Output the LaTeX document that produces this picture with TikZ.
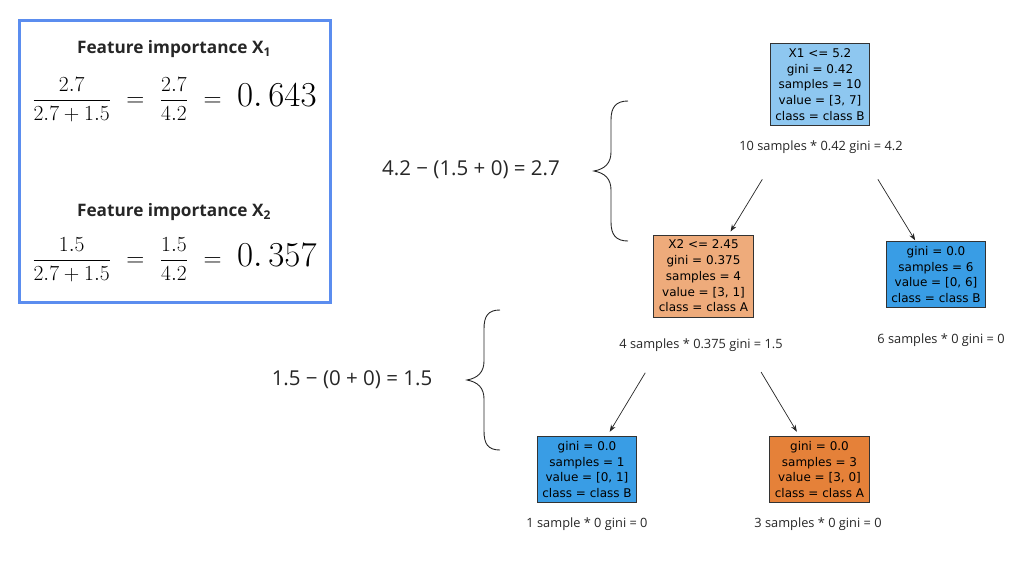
\RequirePackage{fix-cm}
\documentclass[tikz,border=0pt]{standalone}
\usepackage{fontspec}
\usepackage{amsmath}
\setsansfont{Open Sans}
\newfontfamily\treefont{DejaVu Sans}
\usetikzlibrary{arrows.meta}
\definecolor{framecol}{HTML}{5B8DEF}
\definecolor{leafB}{HTML}{399DE5}
\definecolor{leafA}{HTML}{E58139}
\definecolor{mixB}{HTML}{8EC7F0}
\definecolor{mixA}{HTML}{EEAB7B}
\newcommand{\bigval}[1]{\text{\fontsize{35}{36}\selectfont$#1$}}
\newcommand{\eqsp}{\mskip 13mu\text{\fontsize{25}{26}\selectfont$=$}\mskip 13mu}
\tikzset{
  treebox/.style={draw=black!80, line width=0.8pt, align=center,
    font=\treefont\fontsize{12}{15.75}\selectfont, inner xsep=5pt, inner ysep=5pt},
  note/.style={font=\sffamily\fontsize{12.8}{15}\selectfont, text=black!85},
  calc/.style={font=\sffamily\fontsize{20.5}{24}\selectfont, text=black!85},
  title/.style={font=\sffamily\bfseries\fontsize{17.2}{20}\selectfont, text=black!85},
  formula/.style={font=\fontsize{21.5}{26}\selectfont},
  edge/.style={draw=black!85, line width=0.7pt, -{Stealth[length=7pt,width=5pt]}},
  bracecurve/.style={draw=black!85, line width=0.9pt},
}
\begin{document}
\begin{tikzpicture}[x=1pt,y=-1pt]
\useasboundingbox (0,0) rectangle (1036,563);

% summary panel with the two importances
\node[draw=framecol, line width=3pt, minimum width=311pt, minimum height=282pt, inner sep=0pt]
  (panel) at (174.5,161.5) {};
\node[title] (t1) at (174,49) {Feature importance X\textsubscript{1}};
\node[formula] (f1) at (174.5,100)
  {$\displaystyle\frac{2.7}{2.7+1.5}\eqsp\frac{2.7}{4.2}\eqsp\bigval{0.\,643}$};
\node[title] (t2) at (174,212) {Feature importance X\textsubscript{2}};
\node[formula] (f2) at (174.5,260)
  {$\displaystyle\frac{1.5}{2.7+1.5}\eqsp\frac{1.5}{4.2}\eqsp\bigval{0.\,357}$};

% decision tree
\node[treebox, fill=mixB] (root) at (820,84.5)
  {X1 <= 5.2\\gini = 0.42\\samples = 10\\value = [3, 7]\\class = class B};
\node[treebox, fill=mixA] (x2) at (703.5,276)
  {X2 <= 2.45\\gini = 0.375\\samples = 4\\value = [3, 1]\\class = class A};
\node[treebox, fill=leafB] (r) at (936,274.5)
  {gini = 0.0\\samples = 6\\value = [0, 6]\\class = class B};
\node[treebox, fill=leafB] (ll) at (587,469.5)
  {gini = 0.0\\samples = 1\\value = [0, 1]\\class = class B};
\node[treebox, fill=leafA] (lr) at (819.5,469.5)
  {gini = 0.0\\samples = 3\\value = [3, 0]\\class = class A};

\node[note] (n0) at (821,147) {10 samples * 0.42 gini = 4.2};
\node[note] (n1) at (701,345) {4 samples * 0.375 gini = 1.5};
\node[note] (n2) at (941,340) {6 samples * 0 gini = 0};
\node[note] (n3) at (587,524) {1 sample * 0 gini = 0};
\node[note] (n4) at (818,524) {3 samples * 0 gini = 0};

\draw[edge, shorten <=111pt, shorten >=52pt] (root.center) -- (x2.center);
\draw[edge, shorten <=111pt, shorten >=40pt] (root.center) -- (r.center);
\draw[edge, shorten <=113pt, shorten >=44pt] (x2.center) -- (ll.center);
\draw[edge, shorten <=112pt, shorten >=44pt] (x2.center) -- (lr.center);

% impurity decrease per split
\node[calc] (d1) at (471,170) {4.2 − (1.5 + 0) = 2.7};
\node[calc] (d2) at (352,380) {1.5 − (0 + 0) = 1.5};

\draw[bracecurve] (628,101) .. controls (616,101) and (611,107) .. (611,120)
  -- (611,152) .. controls (611,163) and (605,169) .. (594,171)
  .. controls (605,173) and (611,179) .. (611,190)
  -- (611,222) .. controls (611,235) and (616,241) .. (628,241);
\draw[bracecurve] (500,310) .. controls (488,310) and (484,316) .. (484,329)
  -- (484,361) .. controls (484,372) and (478,378) .. (467,380)
  .. controls (478,382) and (484,388) .. (484,399)
  -- (484,431) .. controls (484,444) and (488,450) .. (500,450);
\end{tikzpicture}
\end{document}
